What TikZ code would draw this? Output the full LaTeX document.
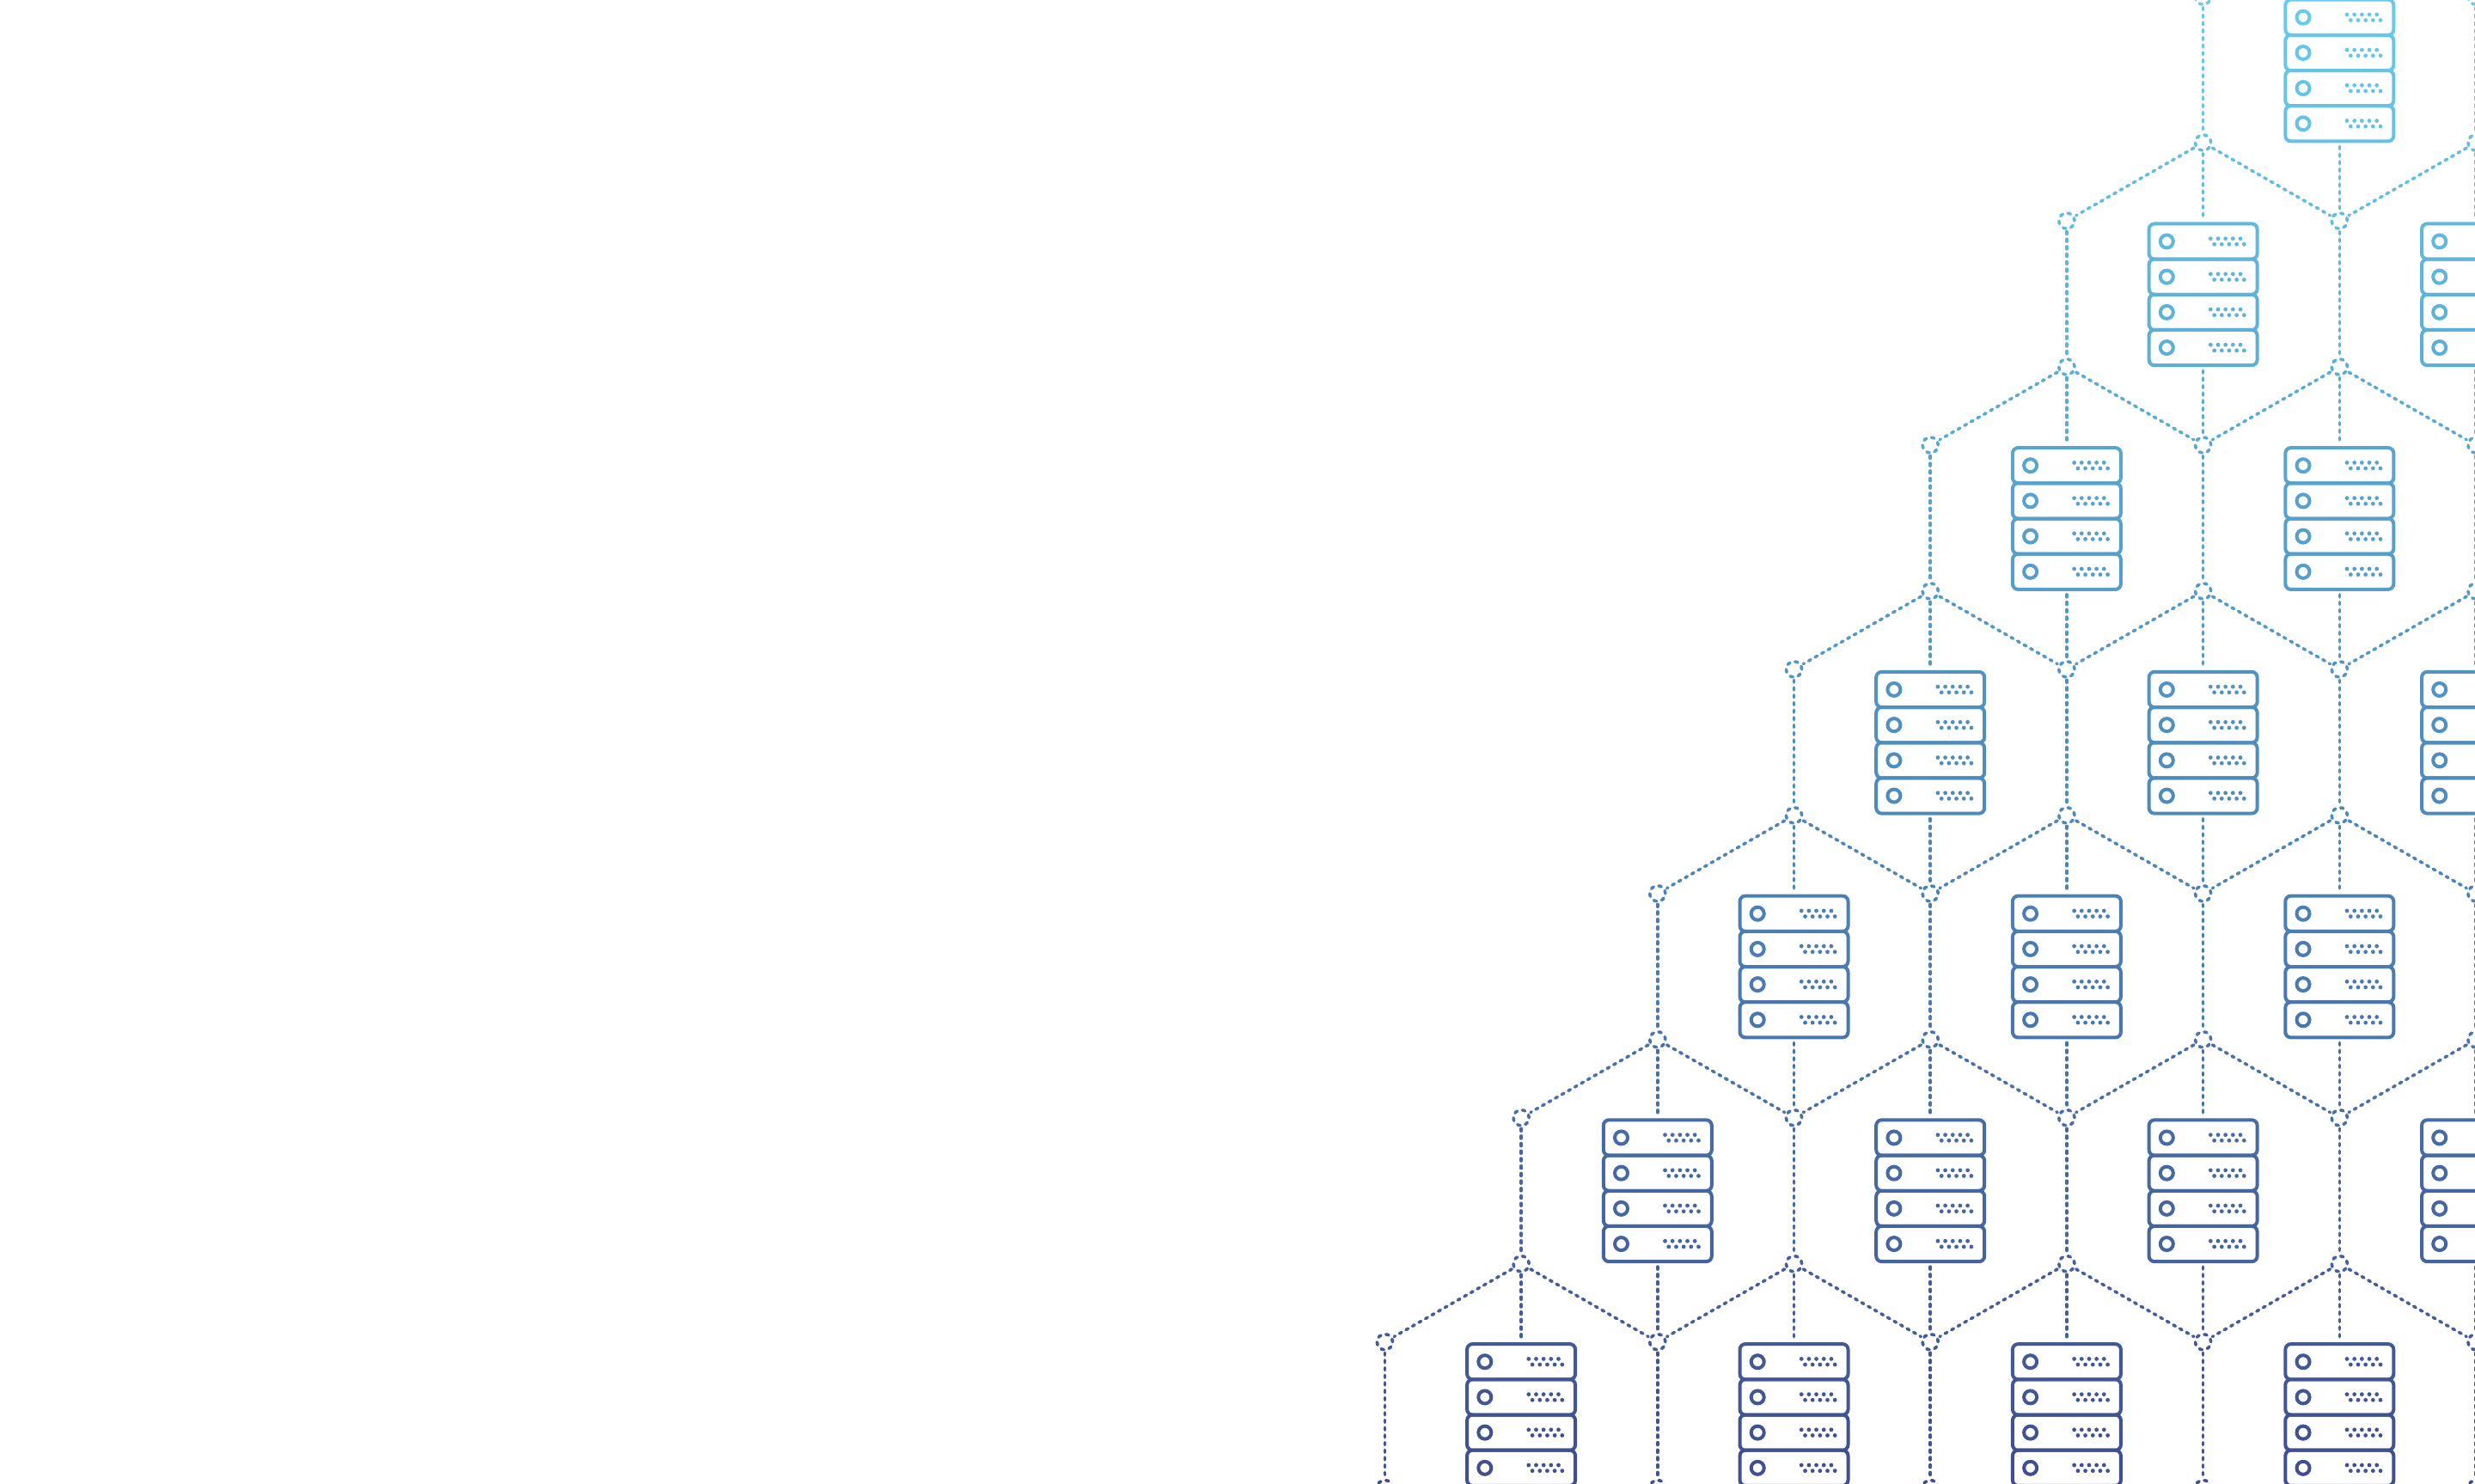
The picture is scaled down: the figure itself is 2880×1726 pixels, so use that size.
\documentclass[tikz,border=0pt]{standalone}
\usepackage{tikz}

\definecolor{topblue}{HTML}{68CCEC}
\definecolor{midblue}{HTML}{4F8FC0}
\definecolor{lowblue}{HTML}{404E8E}

% colour of the lines at a given height of the page
\newcommand{\setlinecol}[1]{%
	\pgfmathsetmacro{\coly}{max(0,min(1726,#1))}%
	\pgfmathsetmacro{\colup}{min(100,\coly/8.6)}%
	\pgfmathsetmacro{\coldown}{max(0,(\coly-860)/8.66)}%
	\ifdim\coly pt<860pt
		\colorlet{linecol}{midblue!\colup!topblue}%
	\else
		\colorlet{linecol}{lowblue!\coldown!midblue}%
	\fi}

\tikzset{
	dotline/.style={line width=1.8pt,line cap=round,dash pattern=on 1.45pt off 2.9pt},
	conn/.style={draw=linecol,dotline},
	hub/.style={circle,draw=linecol,line width=1.8pt,line cap=round,dash pattern=on 1.7pt off 3.06pt,minimum size=9.1pt,inner sep=0pt,outer sep=1.7pt},
	unitbox/.style={rectangle,rounded corners=3.2pt,draw=linecol,line width=2pt,minimum width=63pt,minimum height=20.6pt,inner sep=0pt,outer sep=3pt},
	ring/.style={circle,draw=linecol,line width=2pt,minimum size=7.5pt,inner sep=0pt}
}

% row / columns of the upper hubs / columns of the lower hubs
\newcommand{\hexrows}{0/{1}/{0,2},1/{0,2}/{-1,1,3},2/{1,3}/{0,2,4},3/{0,2,4}/{-1,1,3,5},4/{1,3,5}/{0,2,4,6},5/{0,2,4,6}/{-1,1,3,5,7},6/{1,3,5,7}/{0,2,4,6,8}}

\begin{document}
\begin{tikzpicture}[x=0.5pt,y=-0.5pt]
	\clip[use as bounding box] (0,0) rectangle (2880,1726);
	% hubs and servers
	\foreach \rw/\acols/\bcols in \hexrows {
		\pgfmathsetmacro{\ya}{-94.94+260.94*\rw}
		\pgfmathsetmacro{\yb}{\ya+91}
		\pgfmathsetmacro{\ys}{82+260.75*\rw}
		\foreach \cl in \acols {
			\pgfmathsetmacro{\xa}{2881-158.7*\cl}
			\setlinecol{\ya}
			\node[hub] (a-\rw-\cl) at (\xa,\ya) {};
			\foreach \k in {1,...,4} {
				\pgfmathsetmacro{\yu}{\ys+(\k-2.5)*41.2}
				\setlinecol{\yu}
				\node[unitbox] (u-\rw-\cl-\k) at (\xa,\yu) {};
				\node[ring,xshift=-21.15pt] (l-\rw-\cl-\k) at (\xa,\yu) {};
				\foreach \d in {0,...,4} {
					\fill[linecol] (\xa+8.7+\d*8.67,\yu-3.3) circle[radius=2.4];
					\fill[linecol] (\xa+13+\d*8.67,\yu+3.3) circle[radius=2.4];
				}
			}
		}
		\foreach \cl in \bcols {
			\pgfmathsetmacro{\xb}{2881-158.7*\cl}
			\setlinecol{\yb}
			\node[hub] (b-\rw-\cl) at (\xb,\yb) {};
		}
	}
	\foreach \cl in {0,2,4,6,8} {
		\pgfmathsetmacro{\xa}{2881-158.7*\cl}
		\setlinecol{1726}
		\node[hub] (a-7-\cl) at (\xa,1731.6) {};
	}
	% connectors
	\foreach \rw/\acols/\bcols in \hexrows {
		\pgfmathsetmacro{\ya}{-94.94+260.94*\rw}
		\pgfmathtruncatemacro{\nx}{\rw+1}
		\foreach \cl in \acols {
			\pgfmathtruncatemacro{\cm}{\cl-1}
			\pgfmathtruncatemacro{\cp}{\cl+1}
			\setlinecol{\ya+45}
			\draw[conn] (a-\rw-\cl) -- (b-\rw-\cm);
			\draw[conn] (a-\rw-\cl) -- (b-\rw-\cp);
			\draw[conn] (a-\rw-\cl) -- (u-\rw-\cl-1);
			\ifnum\rw<6
				\setlinecol{\ya+307}
				\draw[conn] (u-\rw-\cl-4) -- (b-\nx-\cl);
			\fi
		}
		\foreach \cl in \bcols {
			\ifnum\cl>-1
				\setlinecol{\ya+176}
				\draw[conn] (b-\rw-\cl) -- (a-\nx-\cl);
			\fi
		}
	}
\end{tikzpicture}
\end{document}
